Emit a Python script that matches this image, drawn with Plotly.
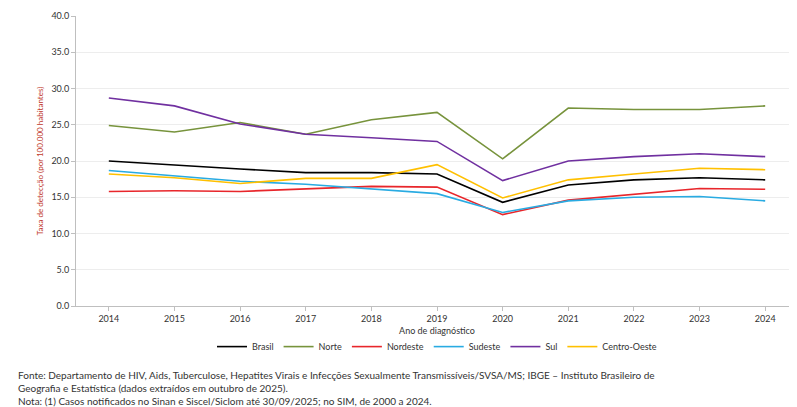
import plotly.graph_objects as go

years = ["2014","2015","2016","2017","2018","2019","2020","2021","2022","2023","2024"]
brasil = [20.0,19.4,18.9,18.4,18.4,18.2,14.3,16.7,17.4,17.7,17.4]
norte = [24.9,24.0,25.3,23.7,25.7,26.7,20.3,27.3,27.1,27.1,27.6]
nordeste = [15.8,15.9,15.8,16.1,16.5,16.4,12.6,14.6,15.4,16.2,16.1]
sudeste = [18.7,18.0,17.2,16.8,16.2,15.5,12.9,14.5,15.0,15.1,14.5]
sul = [28.7,27.6,25.1,23.7,23.2,22.7,17.3,20.0,20.6,21.0,20.6]
centro_oeste = [18.2,17.7,16.9,17.6,17.6,19.5,14.9,17.4,18.2,19.0,18.8]

series = [("Brasil", brasil, "#000000"), ("Norte", norte, "#77933C"),
          ("Nordeste", nordeste, "#E8262B"), ("Sudeste", sudeste, "#29ABE2"),
          ("Sul", sul, "#7030A0"), ("Centro-Oeste", centro_oeste, "#FFC000")]

fig = go.Figure()
for name, vals, col in series:
    fig.add_trace(go.Scatter(x=years, y=vals, name=name, mode="lines",
                             line=dict(color=col, width=1.6)))

fnt = "Lato"
fig.update_layout(
    width=797, height=407, margin=dict(l=68, r=7, t=8, b=109, autoexpand=False),
    plot_bgcolor="white", paper_bgcolor="white",
    font=dict(family=fnt, size=9, color="#333333"),
    xaxis=dict(type="category", range=[-0.5, 10.5], showgrid=False, showline=True, linecolor="#BFBFBF",
               ticks="outside", ticklen=4, tickcolor="#BFBFBF", automargin=False,
               title=dict(text="Ano de diagnóstico", font=dict(size=9), standoff=4)),
    yaxis=dict(range=[0, 40], dtick=5, tickformat=".1f", showgrid=True, gridcolor="#EDEDED",
               showline=True, linecolor="#BFBFBF", ticks="outside", ticklen=4, tickcolor="#BFBFBF",
               zeroline=False, automargin=False,
               title=dict(text="Taxa de detecção (por 100.000 habitantes)", font=dict(size=8, color="#C0392B"), standoff=6)),
    legend=dict(orientation="h", x=0.5, xanchor="center", y=-0.09, yanchor="top",
                font=dict(size=9), itemwidth=30, tracegroupgap=0),
    showlegend=True,
)
notes = ("Fonte: Departamento de HIV, Aids, Tuberculose, Hepatites Virais e Infecções Sexualmente Transmissíveis/SVSA/MS; IBGE – Instituto Brasileiro de<br>"
         "Geografia e Estatística (dados extraídos em outubro de 2025).<br>"
         "Nota: (1) Casos notificados no Sinan e Siscel/Siclom até 30/09/2025; no SIM, de 2000 a 2024.")
fig.add_annotation(text=notes, xref="paper", yref="paper", x=-0.083, y=-0.21,
                   xanchor="left", yanchor="top", showarrow=False, align="left",
                   font=dict(size=10, color="#333333"))
fig.write_html("out.html")
